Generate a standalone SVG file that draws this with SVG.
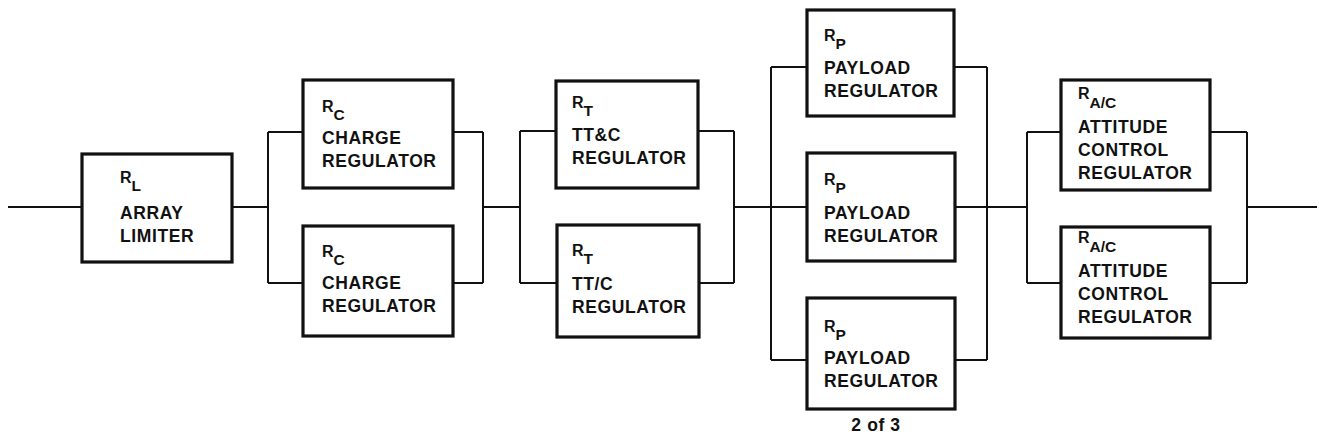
<svg xmlns="http://www.w3.org/2000/svg" width="1319" height="441" viewBox="0 0 1319 441">
<style>
.box{fill:#fff;stroke:#111;stroke-width:3.2}
.wire{fill:none;stroke:#111;stroke-width:2}
.t{font-family:"Liberation Sans",Arial,sans-serif;font-weight:bold;font-size:17.5px;letter-spacing:0.6px;fill:#111}
.r{font-family:"Liberation Sans",Arial,sans-serif;font-weight:bold;font-size:16px;fill:#111}
.s{font-size:15.5px}
</style>
<rect width="1319" height="441" fill="#fff"/>
<g id="connectors">
<path class="wire" d="M8 207H82"/>
<path class="wire" d="M231 207H268M268 132V283M268 132H303M268 283H303"/>
<path class="wire" d="M453 132H483M453 283H483M483 132V283M483 207H520M520 131V283M520 131H556M520 283H557"/>
<path class="wire" d="M698 131H734M699 283H734M734 131V283M734 207H807M771 67V360M771 67H807M771 360H807"/>
<path class="wire" d="M954 67H987M955 207H1027M955 360H987M987 67V360"/>
<path class="wire" d="M1027 132V283M1027 132H1061M1027 283H1061M1210 132H1247M1210 283H1247M1247 132V283M1247 207H1317"/>
</g>
<g id="node-rl">
<rect class="box" x="82" y="154" width="150" height="108"/>
<text class="r" x="120" y="183">R<tspan class="s" dy="8">L</tspan></text>
<text class="t" x="120" y="219">ARRAY</text>
<text class="t" x="120" y="242">LIMITER</text>
</g>
<g id="node-charge1">
<rect class="box" x="303" y="80" width="150" height="108"/>
<text class="r" x="322" y="112">R<tspan class="s" dy="8">C</tspan></text>
<text class="t" x="322" y="144">CHARGE</text>
<text class="t" x="322" y="167">REGULATOR</text>
</g>
<g id="node-charge2">
<rect class="box" x="303" y="226" width="150" height="110"/>
<text class="r" x="322" y="257">R<tspan class="s" dy="8">C</tspan></text>
<text class="t" x="322" y="289">CHARGE</text>
<text class="t" x="322" y="312">REGULATOR</text>
</g>
<g id="node-ttc1">
<rect class="box" x="556" y="81" width="142" height="107"/>
<text class="r" x="572" y="108">R<tspan class="s" dy="8">T</tspan></text>
<text class="t" x="572" y="141">TT&amp;C</text>
<text class="t" x="572" y="164">REGULATOR</text>
</g>
<g id="node-ttc2">
<rect class="box" x="557" y="225" width="142" height="112"/>
<text class="r" x="572" y="256">R<tspan class="s" dy="8">T</tspan></text>
<text class="t" x="572" y="290">TT/C</text>
<text class="t" x="572" y="313">REGULATOR</text>
</g>
<g id="node-payload1">
<rect class="box" x="807" y="10" width="147" height="106"/>
<text class="r" x="824" y="41">R<tspan class="s" dy="8">P</tspan></text>
<text class="t" x="824" y="74">PAYLOAD</text>
<text class="t" x="824" y="97">REGULATOR</text>
</g>
<g id="node-payload2">
<rect class="box" x="807" y="153" width="148" height="108"/>
<text class="r" x="824" y="185">R<tspan class="s" dy="8">P</tspan></text>
<text class="t" x="824" y="219">PAYLOAD</text>
<text class="t" x="824" y="242">REGULATOR</text>
</g>
<g id="node-payload3">
<rect class="box" x="807" y="298" width="148" height="111"/>
<text class="r" x="824" y="332">R<tspan class="s" dy="8">P</tspan></text>
<text class="t" x="824" y="364">PAYLOAD</text>
<text class="t" x="824" y="387">REGULATOR</text>
</g>
<text class="t" x="876" y="431" text-anchor="middle">2 of 3</text>
<g id="node-ac1">
<rect class="box" x="1061" y="80" width="149" height="110"/>
<text class="r" x="1078" y="99">R<tspan class="s" dy="9">A/C</tspan></text>
<text class="t" x="1078" y="133">ATTITUDE</text>
<text class="t" x="1078" y="156">CONTROL</text>
<text class="t" x="1078" y="179">REGULATOR</text>
</g>
<g id="node-ac2">
<rect class="box" x="1061" y="227" width="149" height="111"/>
<text class="r" x="1078" y="243">R<tspan class="s" dy="9">A/C</tspan></text>
<text class="t" x="1078" y="277">ATTITUDE</text>
<text class="t" x="1078" y="300">CONTROL</text>
<text class="t" x="1078" y="323">REGULATOR</text>
</g>
</svg>
